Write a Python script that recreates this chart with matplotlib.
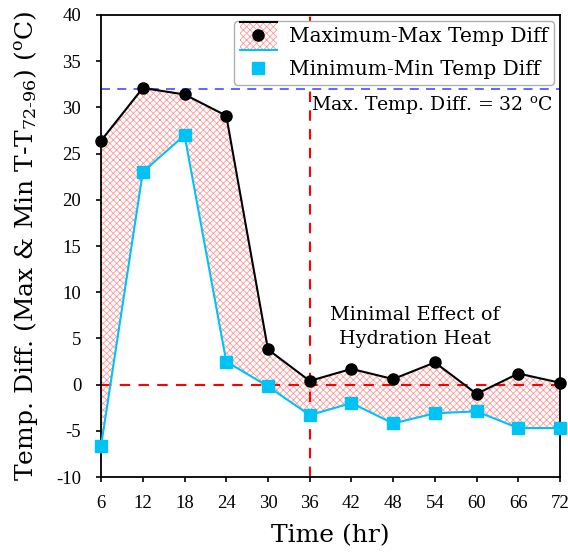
import matplotlib
matplotlib.use("Agg")
import matplotlib.pyplot as plt
from matplotlib.patches import Rectangle
from matplotlib.lines import Line2D
from matplotlib.legend_handler import HandlerBase

hours = [6, 12, 18, 24, 30, 36, 42, 48, 54, 60, 66, 72]
max_diff = [26.4, 32.1, 31.4, 29.1, 3.8, 0.4, 1.7, 0.6, 2.4, -1.0, 1.2, 0.2]
min_diff = [-6.6, 23.0, 27.0, 2.5, -0.2, -3.3, -2.0, -4.2, -3.1, -2.9, -4.7, -4.7]
max_limit = 32
split_hour = 36

plt.rcParams['font.family'] = ['Liberation Serif', 'DejaVu Serif']
plt.rcParams['mathtext.fontset'] = 'dejavuserif'
plt.rcParams['axes.unicode_minus'] = False
plt.rcParams['hatch.linewidth'] = 0.6

LBL = ['DejaVu Serif']
HATCH_C = (1.0, 0.6, 0.6)
CYAN = '#00C3F5'


class BandHandle:
    pass


class HandlerBand(HandlerBase):
    def create_artists(self, legend, orig_handle, xdescent, ydescent, width, height, fontsize, trans):
        cy = height / 2 - ydescent
        top = cy + height * 0.95
        bot = cy - height * 1.05
        rect = Rectangle((-xdescent, bot), width, top - bot, facecolor='white',
                         edgecolor=HATCH_C, hatch='xxxxx', lw=0, transform=trans)
        l1 = Line2D([-xdescent, width - xdescent], [top, top], color='black', lw=1.5, transform=trans)
        l2 = Line2D([-xdescent, width - xdescent], [bot, bot], color=CYAN, lw=1.5, transform=trans)
        m = Line2D([width / 2 - xdescent], [cy], color='black', marker='o', ms=8, lw=0, transform=trans)
        return [rect, l1, l2, m]


fig = plt.figure(figsize=(5.68, 5.53), dpi=100)
ax = fig.add_axes([0.178, 0.1374, 0.808, 0.8355])

ax.fill_between(hours, min_diff, max_diff, facecolor='white', edgecolor=HATCH_C,
                hatch='xxxxx', linewidth=0, zorder=1)
ax.axhline(max_limit, color=(0.35, 0.35, 1.0), ls=(0, (5, 4)), lw=1.3, zorder=2)
ax.axhline(0, color='red', ls=(0, (5, 4)), lw=1.5, zorder=2)
ax.axvline(split_hour, color='red', ls=(0, (5, 4)), lw=1.5, zorder=2)

ax.plot(hours, max_diff, color='black', lw=1.5, marker='o', ms=8, zorder=4, clip_on=False)
ax.plot(hours, min_diff, color=CYAN, lw=1.5, marker='s', ms=8, zorder=3, clip_on=False)

ax.set_xlim(6, 72)
ax.set_ylim(-10, 40)
ax.set_xticks(hours)
ax.set_yticks(range(-10, 41, 5))
ax.tick_params(labelsize=13.5, direction='out', length=3.8, width=1.2)
ax.tick_params(axis='x', pad=9)
ax.tick_params(axis='y', pad=10.5)
for s in ax.spines.values():
    s.set_linewidth(1.3)

ax.set_xlabel('Time (hr)', fontsize=18, labelpad=9, family=LBL)
ax.set_ylabel('Temp. Diff. (Max & Min T-T$_{\\text{72-96}}$) ($^{\\mathrm{o}}$C)', fontsize=18,
              labelpad=12, family=LBL)

ax.text(36.2, 30.3, 'Max. Temp. Diff. = 32 $^{\\mathrm{o}}$C', fontsize=13.6, ha='left', va='center',
        family=LBL)
ax.text(51.1, 6.2, 'Minimal Effect of\nHydration Heat', fontsize=13.8, ha='center', va='center',
        linespacing=1.45, family=LBL)

h2 = Line2D([], [], color=CYAN, lw=0, marker='s', ms=8)
ax.legend([BandHandle(), h2], ['Maximum-Max Temp Diff', 'Minimum-Min Temp Diff'], loc='upper right',
          handler_map={BandHandle: HandlerBand()},
          prop={'family': LBL, 'size': 14.5}, frameon=True, fancybox=True, edgecolor='#b0b0b0',
          framealpha=1, borderaxespad=0.3, handlelength=1.85, labelspacing=0.7, handletextpad=0.6,
          borderpad=0.3)

fig.savefig('out.png', dpi=100)
